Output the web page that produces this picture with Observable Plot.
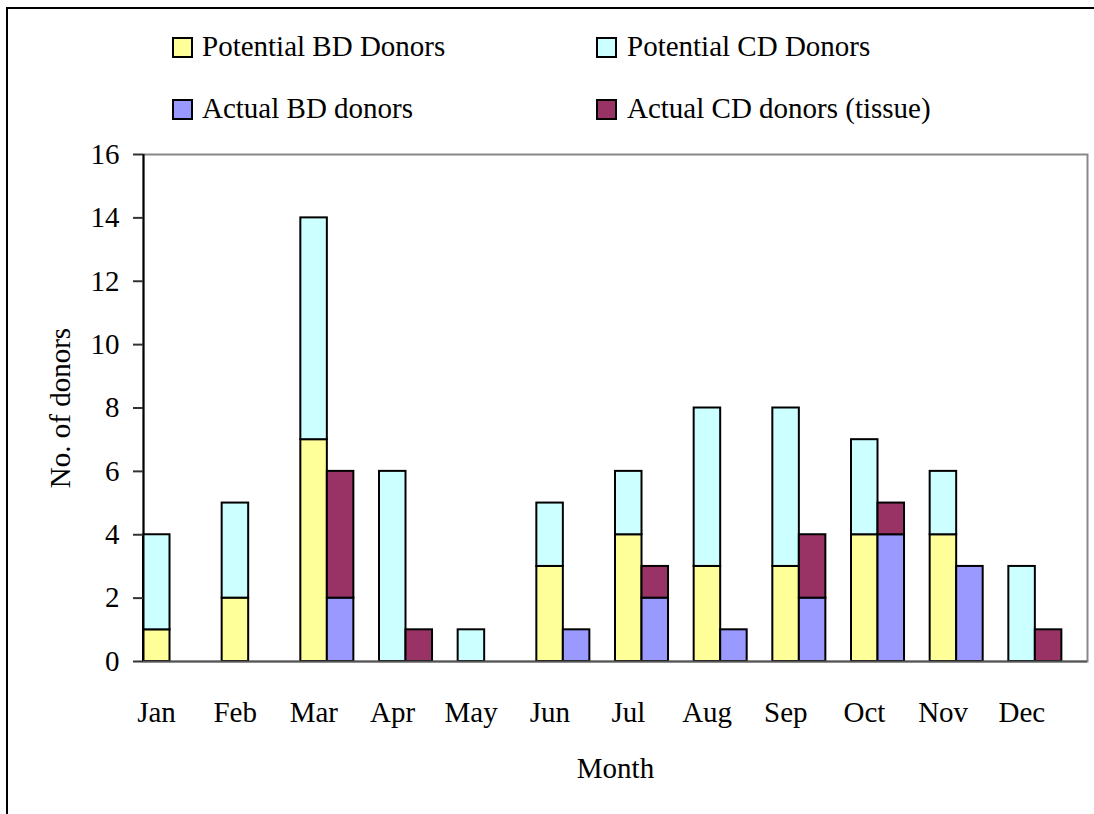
<!DOCTYPE html>
<html>
<head>
<meta charset="utf-8">
<script src="https://cdn.jsdelivr.net/npm/d3@7"></script>
<script src="https://cdn.jsdelivr.net/npm/@observablehq/plot@0.6"></script>
<style>
  html, body { margin: 0; padding: 0; background: #fff; }
  #wrap { position: relative; width: 1094px; height: 814px; overflow: hidden; font-family: "Liberation Serif", "Times New Roman", serif; }
  #chart { position: absolute; left: 0; top: 0; }
  .bt { position: absolute; left: 7px; top: 7px; width: 1087px; height: 2px; background: #000; }
  .bl { position: absolute; left: 6px; top: 7px; width: 2px; height: 807px; background: #000; }
  .leg { position: absolute; font-size: 29px; line-height: 1; white-space: nowrap; color: #000; }
  .sw { position: absolute; width: 17px; height: 17px; border: 2px solid #000; }
</style>
</head>
<body>
<div id="wrap">
  <div id="chart"></div>
  <div class="bt"></div>
  <div class="bl"></div>
  <div id="legend"></div>
</div>
<script>
const months = ["Jan","Feb","Mar","Apr","May","Jun","Jul","Aug","Sep","Oct","Nov","Dec"];
const potentialBD = [1,2,7,0,0,3,4,3,3,4,4,0];
const potentialCD = [3,3,7,6,1,2,2,5,5,3,2,3];
const actualBD    = [0,0,2,0,0,1,2,1,2,4,3,0];
const actualCD    = [0,0,4,1,0,0,1,0,2,1,0,1];
const yTicks = [0,2,4,6,8,10,12,14,16];
const seriesNames = ["Potential BD Donors","Potential CD Donors","Actual BD donors","Actual CD donors (tissue)"];
const seriesColors = ["#FFFF99","#CCFFFF","#9999FF","#993366"];

const barW = 0.337;
const rows = months.flatMap((m, i) => [
  {m, i, slot: 0, key: seriesNames[0], y1: 0, y2: potentialBD[i]},
  {m, i, slot: 0, key: seriesNames[1], y1: potentialBD[i], y2: potentialBD[i] + potentialCD[i]},
  {m, i, slot: 1, key: seriesNames[2], y1: 0, y2: actualBD[i]},
  {m, i, slot: 1, key: seriesNames[3], y1: actualBD[i], y2: actualBD[i] + actualCD[i]}
]).filter(r => r.y2 > r.y1);

const chart = Plot.plot({
  width: 1094,
  height: 814,
  marginLeft: 143,
  marginRight: 7,
  marginTop: 154,
  marginBottom: 153,
  style: {fontFamily: "Liberation Serif, Times New Roman, serif", fontSize: "29px", background: "transparent", color: "#000", overflow: "visible"},
  x: {domain: [0, 12], axis: null},
  y: {domain: [0, 16], axis: null},
  color: {domain: seriesNames, range: seriesColors},
  marks: [
    Plot.frame({stroke: "#888", strokeWidth: 2}),
    Plot.rect(rows, {
      x1: d => d.i + d.slot * barW,
      x2: d => d.i + (d.slot + 1) * barW,
      y1: "y1", y2: "y2",
      fill: "key", stroke: "#000", strokeWidth: 2
    }),
    Plot.ruleX([0], {stroke: "#000", strokeWidth: 2}),
    Plot.ruleY([0], {stroke: "#555", strokeWidth: 2}),
    Plot.axisY({ticks: yTicks, tickSize: 10, tickPadding: 14, fontSize: 29, label: null, stroke: "#333", strokeWidth: 2}),
    Plot.text(months, {x: (d, i) => i + 0.165, y: () => 0, dy: 51, text: d => d, fontSize: 29, textAnchor: "middle"}),
    Plot.text(["Month"], {frameAnchor: "bottom", lineAnchor: "middle", dy: 107, text: d => d, fontSize: 29}),
    Plot.text(["No. of donors"], {frameAnchor: "left", dx: -83, rotate: -90, textAnchor: "middle", text: d => d, fontSize: 29})
  ]
});
document.getElementById("chart").appendChild(chart);

// legend
const legendPos = [
  {sx: 172, tx: 202, y: 37},
  {sx: 596, tx: 627, y: 37},
  {sx: 172, tx: 202, y: 99},
  {sx: 596, tx: 627, y: 99}
];
const legend = document.getElementById("legend");
seriesNames.forEach((name, k) => {
  const p = legendPos[k];
  const sw = document.createElement("div");
  sw.className = "sw";
  sw.style.left = p.sx + "px";
  sw.style.top = p.y + "px";
  sw.style.background = seriesColors[k];
  legend.appendChild(sw);
  const t = document.createElement("div");
  t.className = "leg";
  t.style.left = p.tx + "px";
  t.style.top = (p.y - 5) + "px";
  t.textContent = name;
  legend.appendChild(t);
});
</script>
</body>
</html>
